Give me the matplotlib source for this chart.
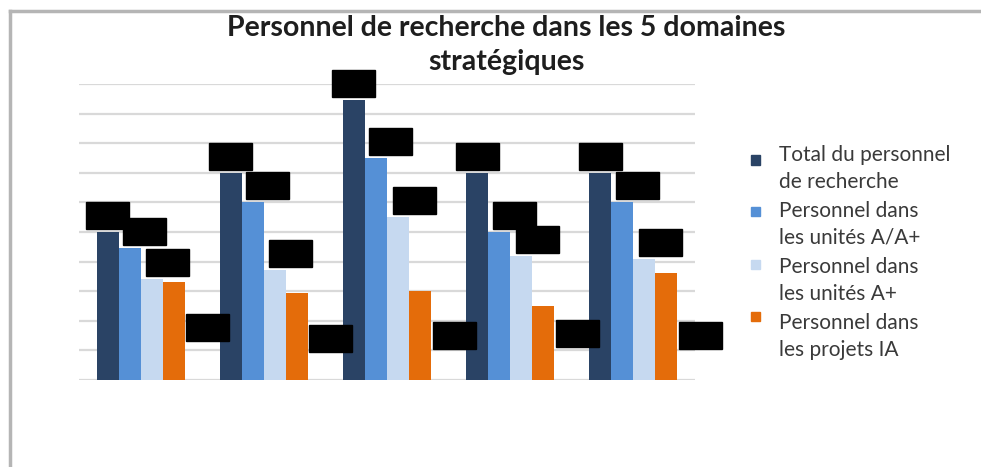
import numpy as np
import matplotlib
matplotlib.use("Agg")
import matplotlib.pyplot as plt
from matplotlib.patches import Rectangle
from matplotlib.lines import Line2D

# valeurs (unités de grille, étiquettes masquées)
domaines = ["D1", "D2", "D3", "D4", "D5"]
series = ["Total du personnel\nde recherche",
          "Personnel dans\nles unités A/A+",
          "Personnel dans\nles unités A+",
          "Personnel dans\nles projets IA"]
total = [5.0, 7.0, 9.45, 7.0, 7.0]
unites_aa = [4.45, 6.0, 7.5, 5.0, 6.0]
unites_a = [3.4, 3.7, 5.5, 4.2, 4.1]
projets_ia = [3.3, 2.95, 3.0, 2.5, 3.6]
# hauteur des étiquettes (masquées) de la série orange
ia_label_y = [1.77, 1.4, 1.52, 1.57, 1.52]

colors = ["#2a4365", "#5590d6", "#c6d9f0", "#e46c0a"]

W, H = 981, 467
fig = plt.figure(figsize=(W / 100, H / 100), dpi=100)
ax_l, ax_r, ax_t, ax_b = 79, 695, 84, 380
ax = fig.add_axes([ax_l / W, 1 - ax_b / H, (ax_r - ax_l) / W, (ax_b - ax_t) / H])

x = np.arange(len(domaines))
bw = 0.1786
values = [total, unites_aa, unites_a, projets_ia]
for i, vals in enumerate(values):
    ax.bar(x + (i - 1.5) * bw, vals, bw, color=colors[i], zorder=2)

ax.set_xlim(-0.5, len(domaines) - 0.5)
ax.set_ylim(0, 10)
ax.set_yticks(np.arange(0, 11, 1))
ax.grid(axis="y", color="#d9d9d9", lw=1.6, zorder=0)
ax.set_xticks([])
ax.tick_params(left=False, labelleft=False)
for s in ax.spines.values():
    s.set_visible(False)

# étiquettes de données masquées (rectangles noirs)
px_x = (len(domaines)) / (ax_r - ax_l)
px_y = 10 / (ax_b - ax_t)
bw_box, bh_box = 43 * px_x, 27 * px_y
shifts = [0, 15, 16]
for i in range(3):
    for j, v in enumerate(values[i]):
        cx = x[j] + (i - 1.5) * bw + shifts[i] * px_x
        ax.add_patch(Rectangle((cx - bw_box / 2, v + 3 * px_y), bw_box, bh_box,
                               color="black", zorder=3, clip_on=False))
for j, yv in enumerate(ia_label_y):
    cx = x[j] + 1.5 * bw + 34 * px_x
    ax.add_patch(Rectangle((cx - bw_box / 2, yv - bh_box / 2), bw_box, bh_box,
                           color="black", zorder=3, clip_on=False))

fig.text(506 / W, 1 - 28 / H, "Personnel de recherche dans les 5 domaines",
         ha="center", va="center", fontsize=20.5, fontweight="bold",
         family="Lato", color="#1e1e1e")
fig.text(506 / W, 1 - 62 / H, "stratégiques",
         ha="center", va="center", fontsize=20.5, fontweight="bold",
         family="Lato", color="#1e1e1e")

# légende
for i, name in enumerate(series):
    my = 160 + 52 * i
    fig.patches.append(Rectangle(((755 - 4.5) / W, 1 - (my + 4.5) / H), 9 / W, 9 / H,
                                 color=colors[i], transform=fig.transFigure, figure=fig))
    l1, l2 = name.split("\n")
    ty = 155 + 56 * i
    fig.text(779 / W, 1 - ty / H, l1, va="center", fontsize=15, family="Lato", color="#3a3a3a")
    fig.text(779 / W, 1 - (ty + 27) / H, l2, va="center", fontsize=15, family="Lato", color="#3a3a3a")

# cadre
fig.add_artist(Line2D([10 / W, 10 / W], [0, 1 - 11 / H], color="#b5b5b5", lw=2.5, transform=fig.transFigure))
fig.add_artist(Line2D([10 / W, 1], [1 - 11 / H, 1 - 11 / H], color="#b5b5b5", lw=2.5, transform=fig.transFigure))

fig.savefig("out.png", dpi=100)
